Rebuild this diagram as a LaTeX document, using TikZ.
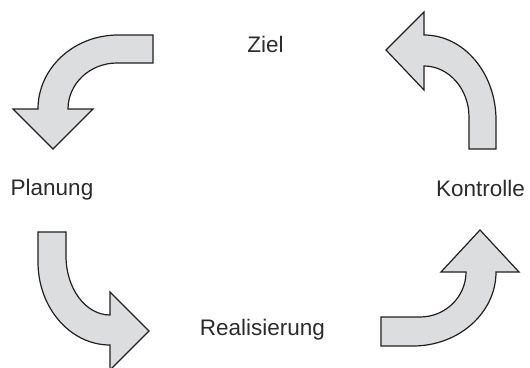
\documentclass[tikz,border=0pt]{standalone}
\usepackage{fontspec}
\setmainfont{Liberation Sans}
\definecolor{arrowfill}{HTML}{DCDDDE}
\definecolor{arrowline}{HTML}{231F20}
\definecolor{labeltext}{HTML}{2B2B2B}
\begin{document}
\begin{tikzpicture}[x=1pt,y=-1pt,
  bigarrow/.style={fill=arrowfill,draw=arrowline,line width=1.2pt,line join=miter},
  label/.style={anchor=base,inner sep=0pt,text=labeltext,font=\fontsize{22.5}{27}\selectfont}]
\useasboundingbox (0,0) rectangle (530,367);
\clip (0,0) rectangle (530,367);
% top-left arrow
\draw[bigarrow] (153,35) -- (118,35) .. controls (73.8,35) and (38,68.1) .. (38,109)
  -- (13,109) -- (53,149) -- (93,109) -- (68,109)
  .. controls (68,83.6) and (90,63) .. (117,63) -- (153,63) -- cycle;
% top-right arrow
\draw[bigarrow] (386,50) -- (424,12) -- (424,35) .. controls (463.7,35) and (496,73) .. (496,120)
  -- (496,149) -- (469,149) -- (469,117)
  .. controls (469,89) and (448.8,66) .. (424,66) -- (424,90) -- cycle;
% bottom-left arrow
\draw[bigarrow] (38,232) -- (66,232) -- (66,256)
  .. controls (66,288.6) and (85.7,315) .. (110,315) -- (110,292) -- (149,331) -- (110,370)
  -- (110,345) .. controls (70.3,345) and (38,307.8) .. (38,262) -- cycle;
% bottom-right arrow
\draw[bigarrow] (381,317) -- (420,317) .. controls (445.4,317) and (466,296.8) .. (466,272)
  -- (441,272) -- (480,230) -- (519,272) -- (496,272)
  .. controls (496,312.8) and (458.8,346) .. (413,346) -- (381,346) -- cycle;
% labels
\node[label] (ziel) at (265.5,52.3) {Ziel};
\node[label] (planung) at (52,195) {Planung};
\node[label] (kontrolle) at (480.5,196) {Kontrolle};
\node[label] (realisierung) at (262.5,335.5) {Realisierung};
\end{tikzpicture}
\end{document}
